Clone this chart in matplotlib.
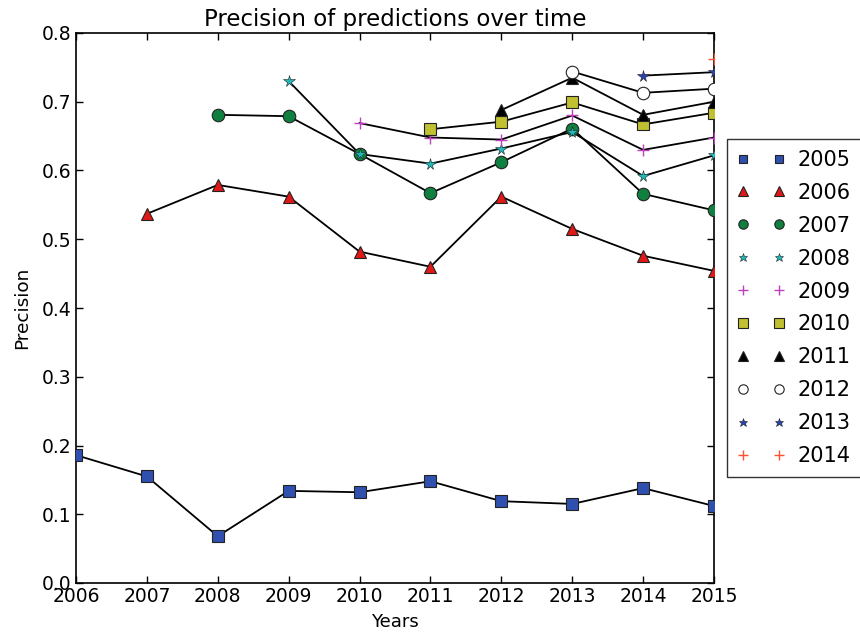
import matplotlib
matplotlib.use("Agg")
import matplotlib.pyplot as plt
from matplotlib.ticker import ScalarFormatter
import numpy as np

years_axis = list(range(2006, 2016))

s2005 = [0.186, 0.155, 0.068, 0.134, 0.132, 0.148, 0.119, 0.115, 0.138, 0.112]
s2006 = [0.537, 0.579, 0.562, 0.482, 0.460, 0.562, 0.515, 0.476, 0.454]
s2007 = [0.681, 0.679, 0.624, 0.567, 0.612, 0.661, 0.566, 0.542]
s2008 = [0.730, 0.624, 0.610, 0.632, 0.656, 0.592, 0.622]
s2009 = [0.669, 0.648, 0.645, 0.680, 0.630, 0.648]
s2010 = [0.660, 0.671, 0.699, 0.667, 0.684]
s2011 = [0.688, 0.735, 0.681, 0.700]
s2012 = [0.744, 0.713, 0.719]
s2013 = [0.738, 0.743]
s2014 = [0.762]

series = [("2005", s2005), ("2006", s2006), ("2007", s2007), ("2008", s2008),
          ("2009", s2009), ("2010", s2010), ("2011", s2011), ("2012", s2012),
          ("2013", s2013), ("2014", s2014)]

styles = [
    dict(marker="s", color="#3050b0", ms=8, mew=0.8),
    dict(marker="^", color="#e01818", ms=9, mew=0.8),
    dict(marker="o", color="#108040", ms=9, mew=0.8),
    dict(marker="*", color="#20b8b8", ms=8.5, mew=0.4),
    dict(marker="+", color="#c040c0", ms=9, mew=1.0),
    dict(marker="s", color="#c0c030", ms=9, mew=0.8),
    dict(marker="^", color="black", ms=9, mew=0.8),
    dict(marker="o", color="white", ms=9, mew=0.8),
    dict(marker="*", color="#2a45b0", ms=8.5, mew=0.4),
    dict(marker="+", color="#ff5030", ms=9, mew=1.0),
]

fig = plt.figure(figsize=(8.6, 6.36), dpi=100)
ax = fig.add_axes([76/860, 1-583/636, (714-76)/860, (583-33)/636])

for (label, vals), st in zip(series, styles):
    n = len(vals)
    xs = years_axis[-n:]
    ax.plot(xs, vals, "-", color="black", lw=1.3, zorder=2)
for (label, vals), st in zip(series, styles):
    n = len(vals)
    xs = years_axis[-n:]
    mec = st["color"] if st["marker"] == "+" else "#222222"
    ax.plot(xs, vals, linestyle="none", marker=st["marker"], color=st["color"],
            markersize=st["ms"], markeredgecolor=mec, markeredgewidth=st["mew"],
            label=label, zorder=3)

ax.set_xlim(2006, 2015)
ax.set_ylim(0.0, 0.8)
ax.set_xticks(years_axis)
ax.set_yticks(np.arange(0, 0.81, 0.1))
fmt = ScalarFormatter(useOffset=False)
ax.xaxis.set_major_formatter(fmt)
ax.set_yticklabels([f"{v:.1f}" for v in np.arange(0, 0.81, 0.1)])
ax.tick_params(direction="in", top=True, right=True, length=5, labelsize=13.5, width=1, pad=3)
for sp in ax.spines.values():
    sp.set_linewidth(1.2)
ax.set_title("Precision of predictions over time", fontsize=16.5, pad=5)
ax.set_xlabel("Years", fontsize=13, labelpad=5)
ax.set_ylabel("Precision", fontsize=13.3, labelpad=8)

leg = ax.legend(loc="center left", bbox_to_anchor=(1.02, 0.5), numpoints=2,
                fontsize=15, frameon=True, fancybox=False, borderaxespad=0,
                labelspacing=0.62, handlelength=2.3, handletextpad=0.6, borderpad=0.5,
                markerscale=0.75)
leg.get_frame().set_edgecolor("black")
leg.get_frame().set_linewidth(1.0)

fig.savefig("out.png", dpi=100)
